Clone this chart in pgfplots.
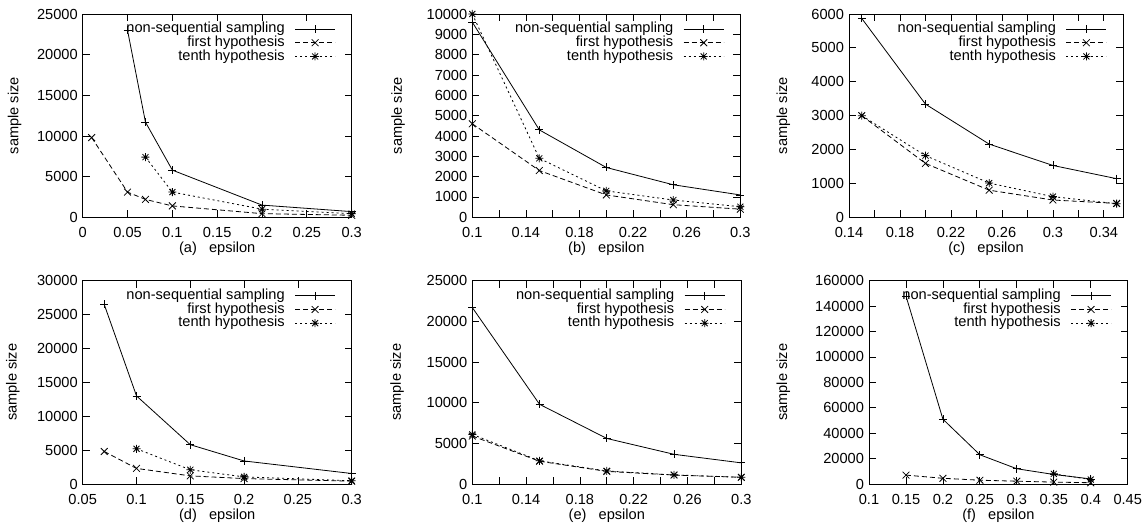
\documentclass[border=0pt]{standalone}
\usepackage{fontspec}
\setmainfont{Liberation Sans}
\usepackage{pgfplots}
\pgfplotsset{compat=1.18}

% gnuplot-like point types
\pgfdeclareplotmark{gcross}{%
  \pgfpathmoveto{\pgfqpoint{-.85\pgfplotmarksize}{-.85\pgfplotmarksize}}%
  \pgfpathlineto{\pgfqpoint{.85\pgfplotmarksize}{.85\pgfplotmarksize}}%
  \pgfpathmoveto{\pgfqpoint{-.85\pgfplotmarksize}{.85\pgfplotmarksize}}%
  \pgfpathlineto{\pgfqpoint{.85\pgfplotmarksize}{-.85\pgfplotmarksize}}%
  \pgfusepathqstroke}
\pgfdeclareplotmark{gstar}{%
  \pgfpathmoveto{\pgfqpoint{-\pgfplotmarksize}{0pt}}%
  \pgfpathlineto{\pgfqpoint{\pgfplotmarksize}{0pt}}%
  \pgfpathmoveto{\pgfqpoint{0pt}{-\pgfplotmarksize}}%
  \pgfpathlineto{\pgfqpoint{0pt}{\pgfplotmarksize}}%
  \pgfpathmoveto{\pgfqpoint{-.75\pgfplotmarksize}{-.75\pgfplotmarksize}}%
  \pgfpathlineto{\pgfqpoint{.75\pgfplotmarksize}{.75\pgfplotmarksize}}%
  \pgfpathmoveto{\pgfqpoint{-.75\pgfplotmarksize}{.75\pgfplotmarksize}}%
  \pgfpathlineto{\pgfqpoint{.75\pgfplotmarksize}{-.75\pgfplotmarksize}}%
  \pgfusepathqstroke}

\pgfplotsset{
  /pgf/number format/assume math mode=true,
  gp/.style={
    scale only axis, height=203.3pt, anchor=south west,
    tick align=inside, major tick length=7pt, minor tick length=7pt,
    axis line style={line width=0.8pt},
    every tick/.style={line width=0.8pt, black},
    ymin=0, scaled ticks=false,
    xticklabel style={/pgf/number format/fixed, /pgf/number format/precision=2, yshift=-5pt},
    yticklabel style={/pgf/number format/fixed, /pgf/number format/precision=0,
      /pgf/number format/set thousands separator={}},
    xlabel style={at={(axis description cs:0.5,-0.157)}, anchor=center},
    ylabel={sample size},
    legend style={draw=none, fill=none, at={(1,1)}, anchor=north east,
      xshift=-16pt, yshift=-8pt, inner sep=0pt, row sep=0pt, column sep=10pt,
      nodes={inner sep=0pt, text height=10.5pt, text depth=3.2pt}},
    legend cell align=right, legend plot pos=right,
    legend image code/.code={\draw[mark repeat=2,mark phase=2,##1]
      plot coordinates {(0pt,0pt) (20pt,0pt) (40pt,0pt)};},
  },
  ns/.style={black, line width=0.8pt, mark=+, mark size=4pt},
  fh/.style={black, line width=0.8pt, dash pattern=on 5pt off 3pt,
    mark=gcross, mark size=4pt, mark options={solid}},
  th/.style={black, line width=0.8pt, dash pattern=on 2pt off 3pt,
    mark=gstar, mark size=4pt, mark options={solid}},
}

\begin{document}
\fontsize{14.6}{16}\selectfont
\begin{tikzpicture}
\useasboundingbox (0,0) rectangle (1148pt,531pt);

% (a)
\begin{axis}[gp, at={(82.7pt,313.7pt)}, width=269pt,
  xmin=0, xmax=0.3, ymax=25000,
  xtick={0,0.05,0.1,0.15,0.2,0.25,0.3}, ytick={0,5000,10000,15000,20000,25000},
  xlabel={(a)~~~epsilon},
  ylabel style={at={(axis description cs:-0.253,0.5)}, anchor=center}]
\addplot[ns] coordinates {(0.05,23000)(0.07,11700)(0.1,5800)(0.2,1500)(0.3,700)};
\addplot[fh] coordinates {(0.01,9800)(0.05,3100)(0.07,2200)(0.1,1400)(0.2,450)(0.3,250)};
\addplot[th] coordinates {(0.07,7400)(0.1,3100)(0.2,1000)(0.3,450)};
\legend{non-sequential sampling, first hypothesis, tenth hypothesis}
\end{axis}

% (b)
\begin{axis}[gp, at={(472.3pt,313.7pt)}, width=268pt,
  xmin=0.1, xmax=0.3, ymax=10000,
  xtick={0.1,0.14,0.18,0.22,0.26,0.3}, minor xtick={0.12,0.16,0.2,0.24,0.28},
  ytick={0,1000,2000,3000,4000,5000,6000,7000,8000,9000,10000},
  xlabel={(b)~~~epsilon},
  ylabel style={at={(axis description cs:-0.277,0.5)}, anchor=center}]
\addplot[ns] coordinates {(0.1,9600)(0.15,4300)(0.2,2450)(0.25,1600)(0.3,1100)};
\addplot[fh] coordinates {(0.1,4600)(0.15,2300)(0.2,1100)(0.25,620)(0.3,400)};
\addplot[th] coordinates {(0.1,10000)(0.15,2900)(0.2,1300)(0.25,850)(0.3,520)};
\legend{non-sequential sampling, first hypothesis, tenth hypothesis}
\end{axis}

% (c)
\begin{axis}[gp, at={(849pt,313.7pt)}, width=274pt,
  xmin=0.14, xmax=0.355, ymax=6000,
  xtick={0.14,0.18,0.22,0.26,0.3,0.34}, minor xtick={0.16,0.2,0.24,0.28,0.32},
  ytick={0,1000,2000,3000,4000,5000,6000},
  xlabel={(c)~~~epsilon},
  ylabel style={at={(axis description cs:-0.24,0.5)}, anchor=center}]
\addplot[ns] coordinates {(0.15,5870)(0.2,3340)(0.25,2160)(0.3,1530)(0.35,1140)};
\addplot[fh] coordinates {(0.15,3000)(0.2,1590)(0.25,800)(0.3,510)(0.35,410)};
\addplot[th] coordinates {(0.15,3000)(0.2,1820)(0.25,1010)(0.3,610)(0.35,400)};
\legend{non-sequential sampling, first hypothesis, tenth hypothesis}
\end{axis}

% (d)
\begin{axis}[gp, at={(82.7pt,47pt)}, width=269pt,
  xmin=0.05, xmax=0.3, ymax=30000,
  xtick={0.05,0.1,0.15,0.2,0.25,0.3}, ytick={0,5000,10000,15000,20000,25000,30000},
  xlabel={(d)~~~epsilon},
  ylabel style={at={(axis description cs:-0.26,0.5)}, anchor=center}]
\addplot[ns] coordinates {(0.07,26500)(0.1,13000)(0.15,5800)(0.2,3400)(0.3,1550)};
\addplot[fh] coordinates {(0.07,4800)(0.1,2300)(0.15,1200)(0.2,800)(0.3,420)};
\addplot[th] coordinates {(0.1,5200)(0.15,2100)(0.2,1050)(0.3,480)};
\legend{non-sequential sampling, first hypothesis, tenth hypothesis}
\end{axis}

% (e)
\begin{axis}[gp, at={(472.3pt,47pt)}, width=269pt,
  xmin=0.1, xmax=0.3, ymax=25000,
  xtick={0.1,0.14,0.18,0.22,0.26,0.3}, minor xtick={0.12,0.16,0.2,0.24,0.28},
  ytick={0,5000,10000,15000,20000,25000},
  xlabel={(e)~~~epsilon},
  ylabel style={at={(axis description cs:-0.28,0.5)}, anchor=center}]
\addplot[ns] coordinates {(0.1,21700)(0.15,9800)(0.2,5600)(0.25,3650)(0.3,2600)};
\addplot[fh] coordinates {(0.1,5900)(0.15,2800)(0.2,1550)(0.25,1100)(0.3,820)};
\addplot[th] coordinates {(0.1,6100)(0.15,2850)(0.2,1600)(0.25,1120)(0.3,830)};
\legend{non-sequential sampling, first hypothesis, tenth hypothesis}
\end{axis}

% (f)
\begin{axis}[gp, at={(869pt,47pt)}, width=258.7pt,
  xmin=0.1, xmax=0.45, ymax=160000,
  xtick={0.1,0.15,0.2,0.25,0.3,0.35,0.4,0.45},
  ytick={0,20000,40000,60000,80000,100000,120000,140000,160000},
  xlabel={(f)~~~epsilon},
  ylabel style={at={(axis description cs:-0.331,0.5)}, anchor=center}]
\addplot[ns] coordinates {(0.15,148000)(0.2,51000)(0.25,23000)(0.3,12000)(0.35,7500)(0.4,4000)};
\addplot[fh] coordinates {(0.15,7000)(0.2,4500)(0.25,3000)(0.3,2200)(0.35,1500)(0.4,1000)};
\addplot[th] coordinates {(0.35,8000)(0.4,3500)};
\legend{non-sequential sampling, first hypothesis, tenth hypothesis}
\end{axis}
\end{tikzpicture}
\end{document}
